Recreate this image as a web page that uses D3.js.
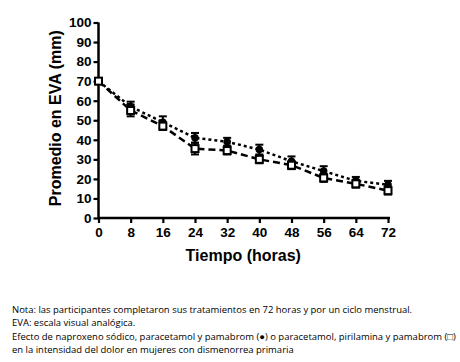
<!DOCTYPE html>
<html>
<head>
<meta charset="utf-8">
<script src="https://cdn.jsdelivr.net/npm/d3@7"></script>
<style>
  body { margin: 0; background: #fff; }
  svg { display: block; }
  .note { font-family: "Open Sans", "Noto Sans", sans-serif; font-size: 9.6px; fill: #000; }
</style>
</head>
<body>
<svg id="chart" width="460" height="362"></svg>
<script>
const hours = [0, 8, 16, 24, 32, 40, 48, 56, 64, 72];
// naproxeno sódico, paracetamol y pamabrom (circle)
const circleMean = [70, 57, 49, 41, 39, 35, 29, 24, 19, 17];
const circleErr = [1.5, 2.5, 3, 2.5, 2, 2.5, 2.5, 2.5, 2, 2];
// paracetamol, pirilamina y pamabrom (square)
const squareMean = [70, 55, 47, 35.5, 34.5, 30, 27, 20.5, 17.5, 14];
const squareErr = [1.5, 3, 2, 3, 2, 2, 2, 2, 2, 2];
const yTicks = [0, 10, 20, 30, 40, 50, 60, 70, 80, 90, 100];
const notes = [
  'Nota: las participantes completaron sus tratamientos en 72 horas y por un ciclo menstrual.',
  'EVA: escala visual analógica.',
  'Efecto de naproxeno sódico, paracetamol y pamabrom (\u25CF) o paracetamol, pirilamina y pamabrom (\u25A1)',
  'en la intensidad del dolor en mujeres con dismenorrea primaria'
];

const svg = d3.select('#chart');
const x = d3.scaleLinear().domain([0, 72]).range([98.5, 388]);
const y = d3.scaleLinear().domain([0, 100]).range([218, 22.5]);

const g = svg.append('g');

const xAxis = g.append('g')
  .attr('transform', `translate(0,${y(0)})`)
  .call(d3.axisBottom(x).tickValues(hours).tickSize(5).tickPadding(4));
const yAxis = g.append('g')
  .attr('transform', `translate(${x(0)},0)`)
  .call(d3.axisLeft(y).tickValues(yTicks).tickSize(5).tickPadding(2));

[xAxis, yAxis].forEach((a) => {
  a.select('.domain').attr('stroke-width', 2.5);
  a.selectAll('.tick line').attr('stroke-width', 2.2);
  a.selectAll('.tick text')
    .attr('font-family', 'Arial, "Liberation Sans", sans-serif')
    .attr('font-weight', 'bold')
    .attr('font-size', 13.5)
    .attr('fill', '#000');
});
// straight axis lines without end caps
xAxis.select('.domain').attr('d', `M${x(0)},0H${x(72) + 2}`);
yAxis.select('.domain').attr('d', `M0,${y(0) + 1}V${y(100)}`);

// axis titles
g.append('text')
  .attr('transform', `translate(61,${(y(0) + y(100)) / 2 - 2}) rotate(-90)`)
  .attr('text-anchor', 'middle')
  .attr('font-family', 'Arial, "Liberation Sans", sans-serif')
  .attr('font-weight', 'bold')
  .attr('font-size', 16)
  .text('Promedio en EVA (mm)');

g.append('text')
  .attr('x', (x(0) + x(72)) / 2)
  .attr('y', 261)
  .attr('text-anchor', 'middle')
  .attr('font-family', 'Arial, "Liberation Sans", sans-serif')
  .attr('font-weight', 'bold')
  .attr('font-size', 16)
  .text('Tiempo (horas)');

const line = d3.line().x(d => x(d[0])).y(d => y(d[1]));

function drawSeries(mean, err, dash, marker) {
  const pts = hours.map((h, i) => [h, mean[i], err[i]]);
  g.append('path')
    .datum(pts)
    .attr('d', line)
    .attr('fill', 'none')
    .attr('stroke', '#000')
    .attr('stroke-width', 2.5)
    .attr('stroke-dasharray', dash);
  const eb = g.append('g').selectAll('g').data(pts).enter().append('g');
  eb.append('line')
    .attr('x1', d => x(d[0])).attr('x2', d => x(d[0]))
    .attr('y1', d => y(d[1] - d[2])).attr('y2', d => y(d[1] + d[2]))
    .attr('stroke', '#000').attr('stroke-width', 2);
  eb.append('line')
    .attr('x1', d => x(d[0]) - 4).attr('x2', d => x(d[0]) + 4)
    .attr('y1', d => y(d[1] + d[2])).attr('y2', d => y(d[1] + d[2]))
    .attr('stroke', '#000').attr('stroke-width', 2);
  eb.append('line')
    .attr('x1', d => x(d[0]) - 4).attr('x2', d => x(d[0]) + 4)
    .attr('y1', d => y(d[1] - d[2])).attr('y2', d => y(d[1] - d[2]))
    .attr('stroke', '#000').attr('stroke-width', 2);
  if (marker === 'circle') {
    eb.append('circle')
      .attr('cx', d => x(d[0])).attr('cy', d => y(d[1]))
      .attr('r', 3.8).attr('fill', '#000');
  } else {
    eb.append('rect')
      .attr('x', d => x(d[0]) - 3.5).attr('y', d => y(d[1]) - 3.5)
      .attr('width', 7).attr('height', 7)
      .attr('fill', '#fff').attr('stroke', '#000').attr('stroke-width', 2);
  }
}

drawSeries(circleMean, circleErr, '3,3', 'circle');
drawSeries(squareMean, squareErr, '7,4', 'square');

const noteText = svg.append('g').selectAll('text')
  .data(notes)
  .enter()
  .append('text')
  .attr('class', 'note')
  .attr('x', 12)
  .attr('y', (d, i) => 313 + i * 13.3)
  .text(d => d);

// shrink the note font so the longest line fits the width used in the reference
const widest = d3.max(noteText.nodes(), n => n.getComputedTextLength());
const fs = 9.6 * Math.min(1, 444 / widest);
noteText.style('font-size', `${fs}px`);
</script>
</body>
</html>
